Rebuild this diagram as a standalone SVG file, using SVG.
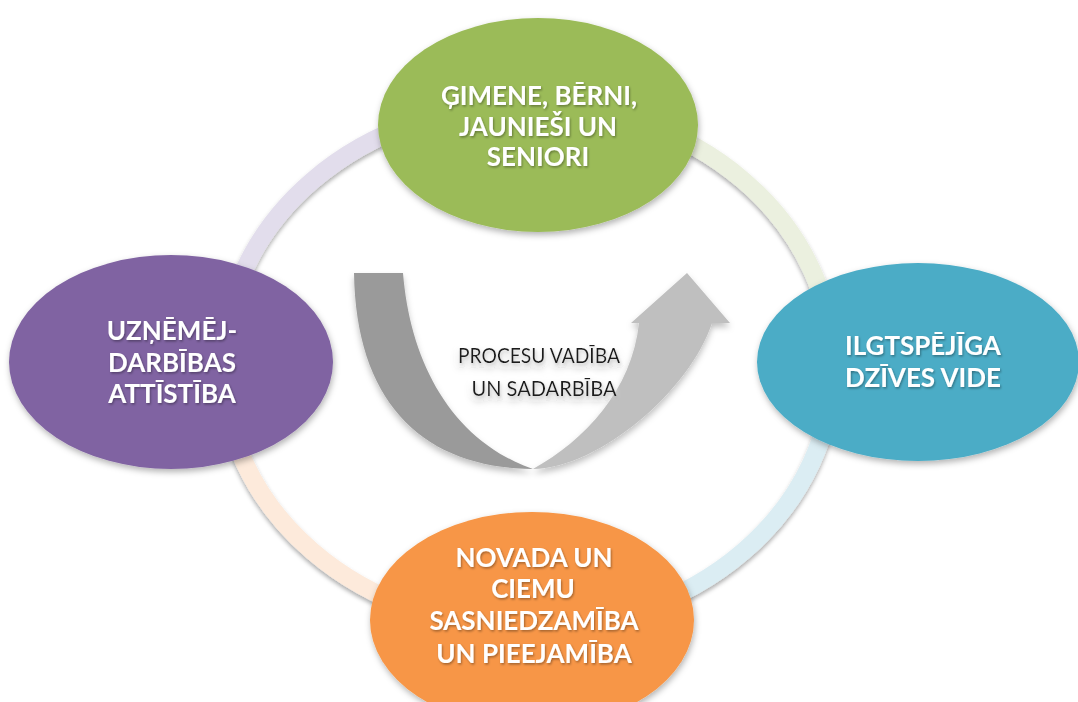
<svg xmlns="http://www.w3.org/2000/svg" width="1078" height="702" viewBox="0 0 1078 702">
  <defs>
    <filter id="shRing" x="-10%" y="-10%" width="120%" height="120%">
      <feDropShadow dx="0" dy="3" stdDeviation="2.2" flood-color="#000" flood-opacity="0.32"/>
    </filter>
    <filter id="shNode" x="-10%" y="-10%" width="120%" height="125%">
      <feDropShadow dx="1" dy="3" stdDeviation="3" flood-color="#000" flood-opacity="0.3"/>
    </filter>
    <filter id="shArrow" x="-10%" y="-10%" width="120%" height="125%">
      <feDropShadow dx="0" dy="4" stdDeviation="3" flood-color="#000" flood-opacity="0.25"/>
    </filter>
    <filter id="shText" x="-10%" y="-30%" width="120%" height="160%">
      <feDropShadow dx="1" dy="1.5" stdDeviation="1" flood-color="#000" flood-opacity="0.35"/>
    </filter>
    <filter id="glowText" x="-10%" y="-40%" width="120%" height="180%">
      <feGaussianBlur in="SourceAlpha" stdDeviation="2.5" result="b"/>
      <feFlood flood-color="#ffffff"/>
      <feComposite in2="b" operator="in" result="w"/>
      <feDropShadow in="SourceGraphic" dx="1" dy="2" stdDeviation="1.5" flood-color="#000" flood-opacity="0.3" result="s"/>
      <feMerge><feMergeNode in="w"/><feMergeNode in="s"/></feMerge>
    </filter>
  </defs>
  <style>
    .ring { fill: none; stroke-width: 18; filter: url(#shRing); }
    .node { filter: url(#shNode); }
    .lbl { font-family: Lato, "Open Sans", "Liberation Sans", sans-serif; font-weight: bold; font-size: 26px; fill: #ffffff; text-anchor: middle; filter: url(#shText); }
    .mid { font-family: Lato, "Open Sans", "Liberation Sans", sans-serif; font-size: 21px; fill: #1a1a1a; text-anchor: middle; filter: url(#glowText); }
  </style>
  <rect width="1078" height="702" fill="#ffffff"/>

  <g id="connectors">
    <path class="ring" stroke="#E2DDEC" d="M 223 366 A 305 262 0 0 1 528 104"/>
    <path class="ring" stroke="#EBF0DF" d="M 528 104 A 305 262 0 0 1 833 366"/>
    <path class="ring" stroke="#DBEDF3" d="M 833 366 A 305 262 0 0 1 528 628"/>
    <path class="ring" stroke="#FDEADB" d="M 528 628 A 305 262 0 0 1 223 366"/>
  </g>

  <g id="process-arrow" filter="url(#shArrow)">
    <path fill="#9A9A9A" d="M 354 273 L 403 273 C 410 360 450 440 533 469 C 425 468 356 405 354 273 Z"/>
    <path fill="#BFBFBF" d="M 533 469 C 585 440 632 390 639 323 L 631 323 L 687 273 L 730 323 L 712 323 C 690 390 600 468 533 469 Z"/>
    <text class="mid" x="539" y="363" textLength="162" lengthAdjust="spacingAndGlyphs">PROCESU VADĪBA</text>
    <text class="mid" x="544" y="396" textLength="145" lengthAdjust="spacingAndGlyphs">UN SADARBĪBA</text>
  </g>

  <g id="node-gimene">
    <ellipse class="node" cx="538" cy="125" rx="160" ry="107" fill="#9BBB59"/>
    <text class="lbl" x="539" y="105">ĢIMENE, BĒRNI,</text>
    <text class="lbl" x="538" y="136">JAUNIEŠI UN</text>
    <text class="lbl" x="538" y="166">SENIORI</text>
  </g>

  <g id="node-uznemejdarbiba">
    <ellipse class="node" cx="171" cy="362" rx="162" ry="107" fill="#8064A2"/>
    <text class="lbl" x="172" y="340">UZŅĒMĒJ-</text>
    <text class="lbl" x="172" y="372">DARBĪBAS</text>
    <text class="lbl" x="172" y="403">ATTĪSTĪBA</text>
  </g>

  <g id="node-dzives-vide">
    <ellipse class="node" cx="918" cy="362" rx="161" ry="99" fill="#4BACC6"/>
    <text class="lbl" x="923" y="355">ILGTSPĒJĪGA</text>
    <text class="lbl" x="923" y="387">DZĪVES VIDE</text>
  </g>

  <g id="node-sasniedzamiba">
    <ellipse class="node" cx="532" cy="620" rx="162" ry="108" fill="#F79646"/>
    <text class="lbl" x="534" y="567">NOVADA UN</text>
    <text class="lbl" x="533" y="598">CIEMU</text>
    <text class="lbl" x="534" y="630">SASNIEDZAMĪBA</text>
    <text class="lbl" x="534" y="663">UN PIEEJAMĪBA</text>
  </g>
</svg>
